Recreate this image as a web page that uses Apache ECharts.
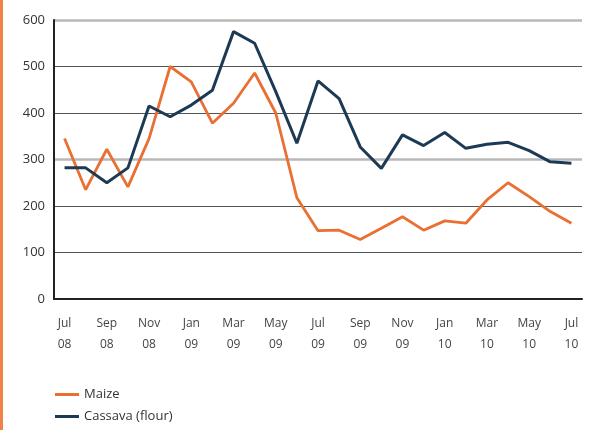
<!DOCTYPE html>
<html>
<head>
<meta charset="utf-8">
<script src="https://cdn.jsdelivr.net/npm/echarts@6/dist/echarts.min.js"></script>
<style>
  html, body { margin: 0; padding: 0; background: #fff; }
  #chart { width: 597px; height: 430px; }
  #edge { position: absolute; left: 0; top: 0; width: 3px; height: 430px; background: #f08448; }
</style>
</head>
<body>
<div id="edge"></div>
<div id="chart"></div>
<script>
// months Jul 08 .. Jul 10
const months = [
  'Jul\n08', 'Aug\n08', 'Sep\n08', 'Oct\n08', 'Nov\n08', 'Dec\n08',
  'Jan\n09', 'Feb\n09', 'Mar\n09', 'Apr\n09', 'May\n09', 'Jun\n09',
  'Jul\n09', 'Aug\n09', 'Sep\n09', 'Oct\n09', 'Nov\n09', 'Dec\n09',
  'Jan\n10', 'Feb\n10', 'Mar\n10', 'Apr\n10', 'May\n10', 'Jun\n10', 'Jul\n10'
]

const maize = [
  345, 235, 322, 241, 345, 500, 467, 378, 421, 486, 400, 218,
  147, 148, 128, 152, 177, 148, 168, 163, 213, 250, 220, 188, 163
]

const cassava = [
  282, 282, 250, 282, 415, 392, 417, 449, 575, 550, 446, 335,
  469, 431, 327, 281, 353, 330, 358, 324, 333, 337, 319, 295, 292
]

const yTicks = [0, 100, 200, 300, 400, 500, 600]

const chart = echarts.init(document.getElementById('chart'))

const font = 'Open Sans'

chart.setOption({
  animation: false,
  grid: { left: 54, right: 15, top: 20, bottom: 131 },
  legend: {
    orient: 'vertical',
    left: 50,
    top: 383,
    itemWidth: 24,
    itemHeight: 10,
    itemGap: 9,
    icon: 'path://M0,4 L24,4 L24,7 L0,7 Z',
    textStyle: { fontFamily: font, fontSize: 13, color: '#333' },
    data: ['Maize', 'Cassava (flour)']
  },
  xAxis: [
    {
      type: 'category',
      data: months,
      boundaryGap: true,
      axisLine: { lineStyle: { color: '#222', width: 2 } },
      axisTick: { alignWithLabel: true, interval: 1, length: 6, lineStyle: { color: '#222', width: 1.5 } },
      axisLabel: {
        interval: 1,
        margin: 14,
        lineHeight: 21,
        fontFamily: font,
        fontSize: 12,
        color: '#444'
      },
      splitLine: { show: false }
    },
    {
      type: 'category',
      data: months,
      boundaryGap: true,
      position: 'bottom',
      axisLine: { show: false },
      axisTick: { alignWithLabel: true, interval: 0, length: 3, lineStyle: { color: '#222', width: 1.5 } },
      axisLabel: { show: false },
      splitLine: { show: false }
    }
  ],
  yAxis: [
    {
      type: 'value',
      min: 0,
      max: 600,
      interval: 100,
      axisLine: { show: true, lineStyle: { color: '#222', width: 2 } },
      axisTick: { show: false },
      axisLabel: {
        margin: 9,
        fontFamily: font,
        fontSize: 13,
        color: '#333',
        formatter: v => (yTicks.includes(v) ? String(v) : '')
      },
      splitLine: {
        lineStyle: {
          width: 1,
          color: ['#555', '#555', '#555', 'rgba(0,0,0,0)', '#555', '#555', 'rgba(0,0,0,0)']
        }
      }
    },
    {
      type: 'value',
      min: 0,
      max: 600,
      interval: 300,
      position: 'left',
      axisLine: { show: false },
      axisTick: { show: false },
      axisLabel: { show: false },
      splitLine: {
        lineStyle: {
          width: 2.5,
          color: ['rgba(0,0,0,0)', '#b8b8b8', '#b8b8b8']
        }
      }
    }
  ],
  series: [
    {
      name: 'Maize',
      type: 'line',
      data: maize,
      symbol: 'none',
      z: 3,
      lineStyle: { color: '#ea6f32', width: 2.8 },
      itemStyle: { color: '#ea6f32' }
    },
    {
      name: 'Cassava (flour)',
      type: 'line',
      data: cassava,
      symbol: 'none',
      z: 4,
      lineStyle: { color: '#1d3a55', width: 3 },
      itemStyle: { color: '#1d3a55' }
    }
  ]
})
</script>
</body>
</html>
